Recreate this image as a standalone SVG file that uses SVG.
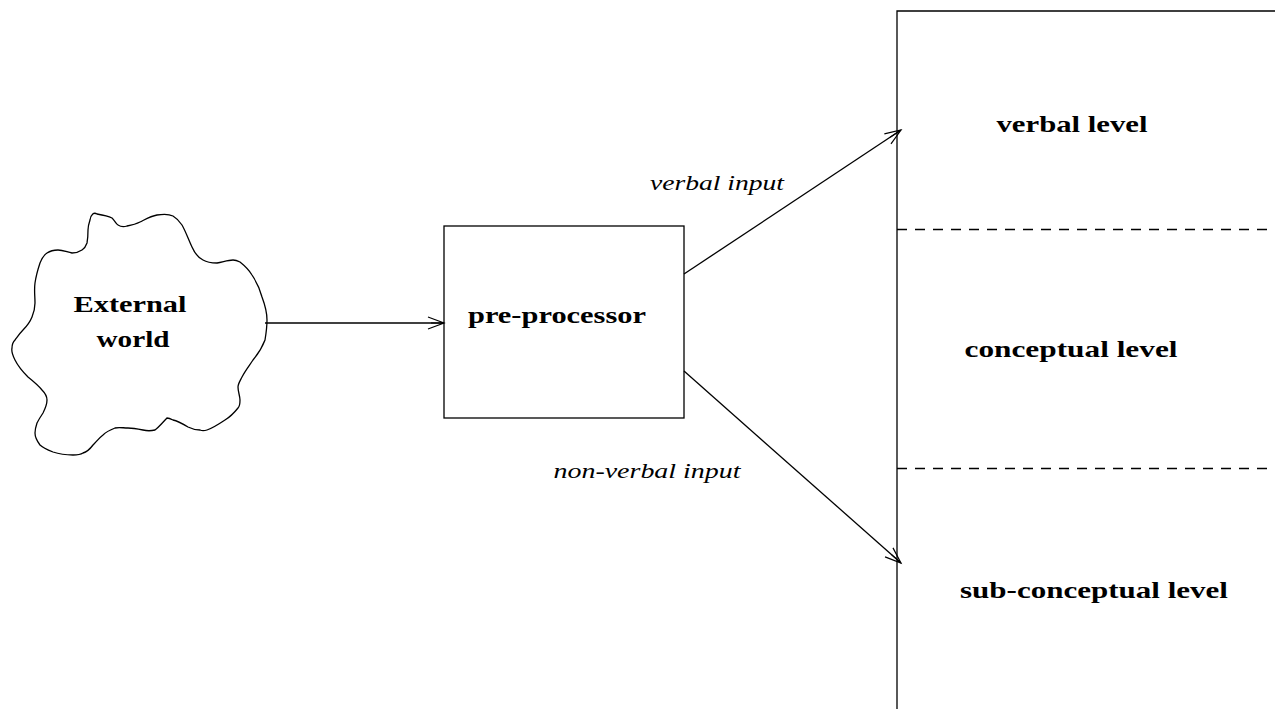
<svg xmlns="http://www.w3.org/2000/svg" width="1275" height="709" viewBox="0 0 1275 709">
  <style>
    .ln { fill: none; stroke: #000; stroke-width: 1.3; }
    .dash { fill: none; stroke: #000; stroke-width: 1.4; stroke-dasharray: 10 8; }
    .bold { font-family: "Liberation Serif", "DejaVu Serif", serif; font-weight: bold; font-size: 23px; fill: #000; }
    .ital { font-family: "Liberation Serif", "DejaVu Serif", serif; font-style: italic; font-size: 22px; fill: #000; }
  </style>
  <defs>
    <marker id="open" markerUnits="userSpaceOnUse" markerWidth="20" markerHeight="14" refX="16" refY="6" orient="auto" overflow="visible">
      <path d="M0,0 L16,6 L0,12 M3,6 L16,6" fill="none" stroke="#000" stroke-width="1.2"/>
    </marker>
  </defs>
  <rect width="1275" height="709" fill="#fff"/>

  <!-- external world cloud -->
  <g id="external-world">
    <path class="ln" d="M90,220 C91,214 94,212 97,214 C103,215 108,216 112,218 C115,221 116,224 118,225 C121,227 124,227 127,226 C132,225 136,224 140,222 C146,219 151,216 157,215 C163,214 169,214 173,216 C178,219 180,222 182,225 C186,232 189,241 192,247 C195,254 199,258 203,260 C208,263 212,263 217,263 C223,262 228,260 233,260 C236,260 238,261 240,262 C245,266 249,270 252,275 C256,281 260,289 262,297 C265,305 267,312 267,320 C267,328 266,334 265,340 C262,348 258,354 253,360 C249,366 245,371 242,377 C240,381 238,384 238,387 C238,392 240,396 240,400 C240,404 240,406 238,408 C234,413 230,417 225,420 C219,424 213,428 207,430 C204,431 202,431 200,430 C195,430 192,429 188,427 C183,424 178,421 173,420 C171,419 169,418 167,418 C163,422 159,427 155,430 C151,431 147,431 143,430 C138,429 133,428 128,428 C123,428 119,427 115,428 C110,430 106,432 103,435 C99,438 96,442 93,445 C90,449 87,452 83,453 C80,455 77,455 73,455 C66,455 59,454 53,452 C48,450 43,448 40,445 C37,441 35,437 35,433 C35,429 36,426 37,423 C39,419 41,416 43,413 C45,409 47,404 47,400 C47,396 45,393 42,390 C38,385 33,381 28,377 C23,372 18,366 15,360 C13,356 11,352 12,348 C12,345 13,342 15,340 C18,336 20,333 23,330 C27,326 30,322 32,317 C34,312 35,308 35,303 C35,296 34,290 35,283 C36,276 38,269 40,263 C42,258 44,255 47,253 C50,251 54,250 58,250 C63,250 67,252 72,253 C76,253 79,252 82,250 C85,248 86,246 87,243 C88,238 88,234 88,230 C88,226 89,223 90,220 Z"/>
    <text class="bold" x="130" y="312" text-anchor="middle" textLength="113" lengthAdjust="spacingAndGlyphs">External</text>
    <text class="bold" x="133" y="347" text-anchor="middle" textLength="73" lengthAdjust="spacingAndGlyphs">world</text>
  </g>

  <!-- pre-processor box -->
  <g id="pre-processor">
    <rect class="ln" x="444" y="226" width="240" height="192"/>
    <text class="bold" x="557" y="323" text-anchor="middle" textLength="178" lengthAdjust="spacingAndGlyphs">pre-processor</text>
  </g>

  <!-- levels column -->
  <g id="levels">
    <path class="ln" d="M1275,11 L897,11 L897,709"/>
    <line class="dash" x1="897" y1="229.5" x2="1275" y2="229.5"/>
    <line class="dash" x1="897" y1="468.5" x2="1275" y2="468.5"/>
  </g>
  <g id="verbal-level">
    <text class="bold" x="1072" y="132" text-anchor="middle" textLength="151" lengthAdjust="spacingAndGlyphs">verbal level</text>
  </g>
  <g id="conceptual-level">
    <text class="bold" x="1071" y="357" text-anchor="middle" textLength="213" lengthAdjust="spacingAndGlyphs">conceptual level</text>
  </g>
  <g id="sub-conceptual-level">
    <text class="bold" x="1094" y="598" text-anchor="middle" textLength="268" lengthAdjust="spacingAndGlyphs">sub-conceptual level</text>
  </g>

  <!-- connectors -->
  <g id="connectors">
    <line class="ln" x1="265" y1="323" x2="444" y2="323" marker-end="url(#open)"/>
    <line class="ln" x1="684" y1="274" x2="901" y2="130" marker-end="url(#open)"/>
    <line class="ln" x1="684" y1="371" x2="901" y2="563" marker-end="url(#open)"/>
    <text class="ital" x="717" y="190" text-anchor="middle" textLength="134" lengthAdjust="spacingAndGlyphs">verbal input</text>
    <text class="ital" x="647" y="478" text-anchor="middle" textLength="187" lengthAdjust="spacingAndGlyphs">non-verbal input</text>
  </g>
</svg>
